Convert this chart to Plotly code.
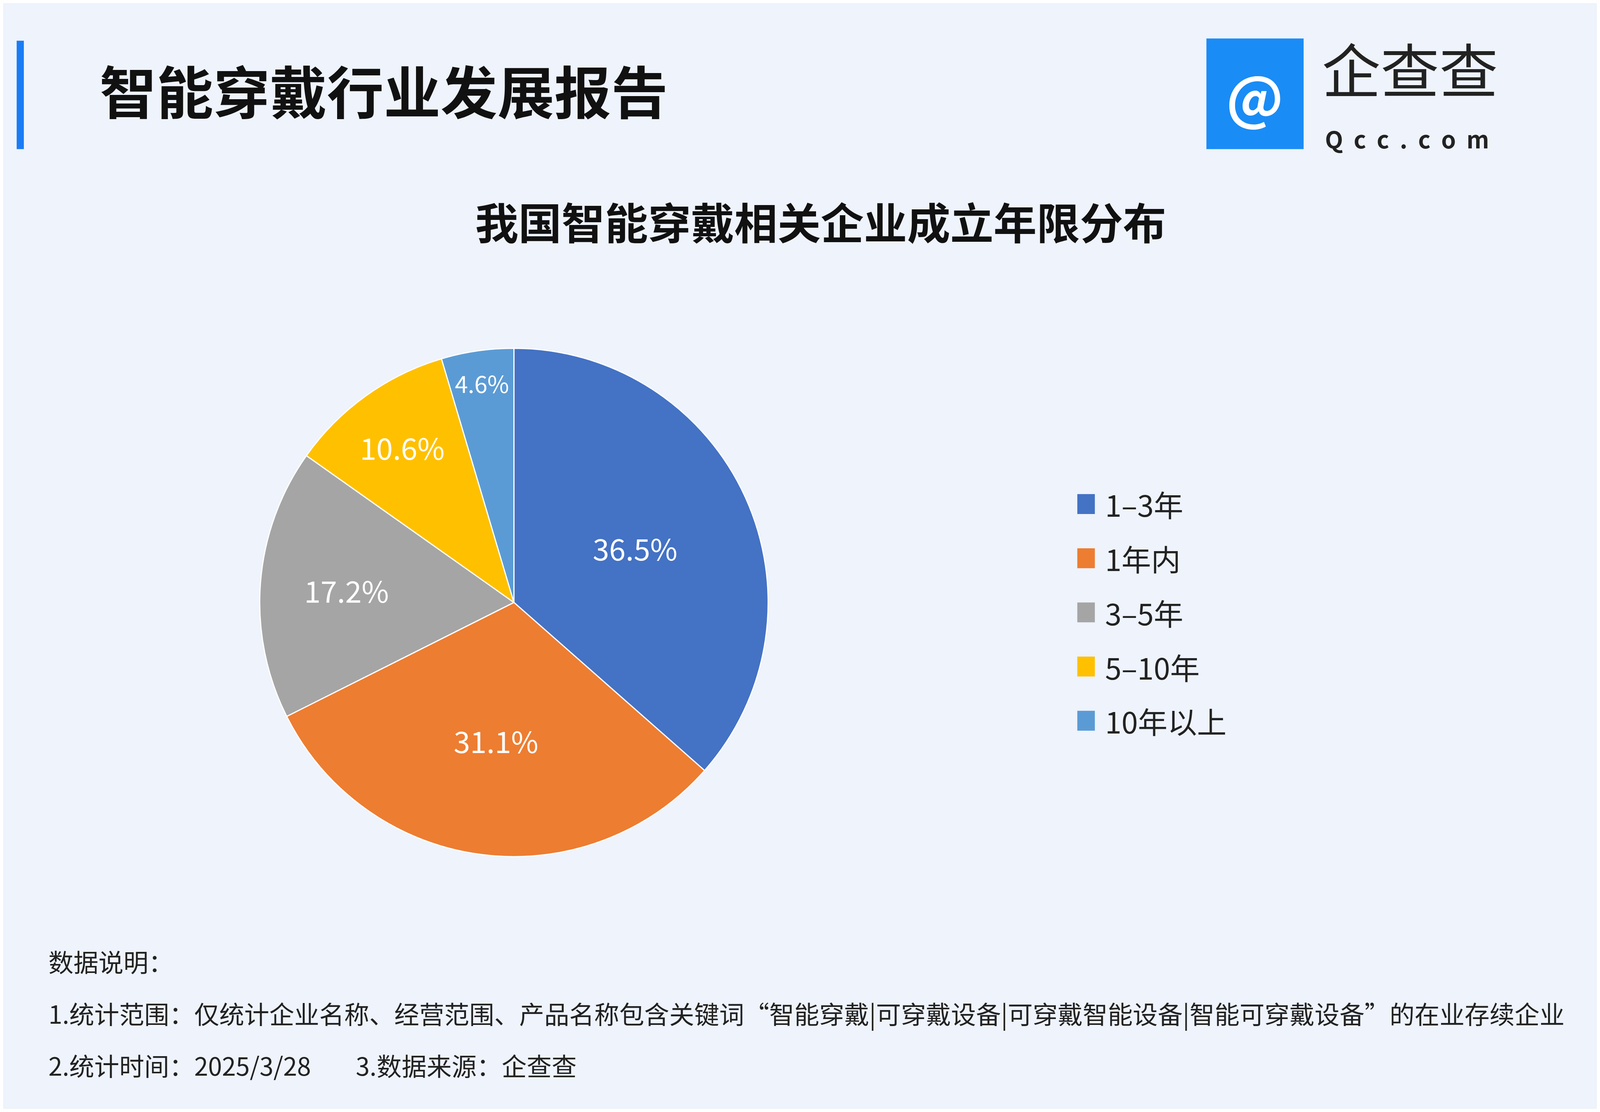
import plotly.graph_objects as go

labels = ["1–3年", "1年内", "3–5年", "5–10年", "10年以上"]
values = [36.5, 31.1, 17.2, 10.6, 4.6]
colors = ["#4472C4", "#ED7D31", "#A5A5A5", "#FFC000", "#5B9BD5"]

FONT = "Noto Sans CJK SC"
S = 0.97  # font scale for the rendered page

fig = go.Figure(go.Pie(
    labels=labels, values=values, sort=False, direction="clockwise", rotation=0,
    marker=dict(colors=colors, line=dict(color="white", width=3)),
    texttemplate="%{value:.1f}%", textposition="inside", insidetextorientation="horizontal",
    textfont=dict(color="white", size=78 * S, family=FONT),
    domain=dict(x=[0.161, 0.480], y=[0.195, 0.721]),
    showlegend=False,
))

fig.update_layout(
    autosize=True, margin=dict(l=0, r=0, t=0, b=0),
    paper_bgcolor="#eef3fc", font=dict(family=FONT, color="#222"),
    title=dict(text="<b>我国智能穿戴相关企业成立年限分布</b>", x=0.513, xanchor="center",
               y=0.80, yanchor="middle", font=dict(size=114 * S, color="#111")),
)

# legend drawn by hand so the swatches are big enough
for i, (lab, col) in enumerate(zip(labels, colors)):
    y = 0.547 - i * 0.049
    fig.add_shape(type="rect", xref="paper", yref="paper", x0=0.674, x1=0.685,
                  y0=y - 0.009, y1=y + 0.009, fillcolor=col, line=dict(width=0))
    fig.add_annotation(text=lab, xref="paper", yref="paper", x=0.691, y=y, xanchor="left",
                       yanchor="middle", showarrow=False, font=dict(size=78 * S, color="#222"))

# header bar
fig.add_shape(type="rect", xref="paper", yref="paper", x0=0.0085, x1=0.013, y0=0.868, y1=0.966,
              fillcolor="#1a7cf5", line=dict(width=0))
fig.add_annotation(text="<b>智能穿戴行业发展报告</b>", xref="paper", yref="paper", x=0.06, y=0.922,
                   xanchor="left", yanchor="middle", showarrow=False, font=dict(size=150 * S, color="#111"))
# logo
fig.add_shape(type="rect", xref="paper", yref="paper", x0=0.755, x1=0.816, y0=0.868, y1=0.968,
              fillcolor="#1a8cf5", line=dict(width=0))
fig.add_annotation(text="<b>@</b>", xref="paper", yref="paper", x=0.7855, y=0.918, showarrow=False,
                   xanchor="center", yanchor="middle", font=dict(size=150 * S, color="white"))
fig.add_annotation(text="企查查", xref="paper", yref="paper", x=0.827, y=0.942, xanchor="left",
                   yanchor="middle", showarrow=False, font=dict(size=155 * S, color="#222"))
fig.add_annotation(text="<b>Q  c  c  .  c  o  m</b>", xref="paper", yref="paper", x=0.829, y=0.878,
                   xanchor="left", yanchor="middle", showarrow=False, font=dict(size=62 * S, color="#222"))

notes = [
    ("数据说明：", 0.134),
    ("1.统计范围：仅统计企业名称、经营范围、产品名称包含关键词“智能穿戴|可穿戴设备|可穿戴智能设备|智能可穿戴设备”的在业存续企业", 0.087),
    ("2.统计时间：2025/3/28        3.数据来源：企查查", 0.040),
]
for t, y in notes:
    fig.add_annotation(text=t, xref="paper", yref="paper", x=0.028, y=y, xanchor="left",
                       yanchor="middle", showarrow=False, font=dict(size=66 * S, color="#222"))

fig.write_html("out.html")
